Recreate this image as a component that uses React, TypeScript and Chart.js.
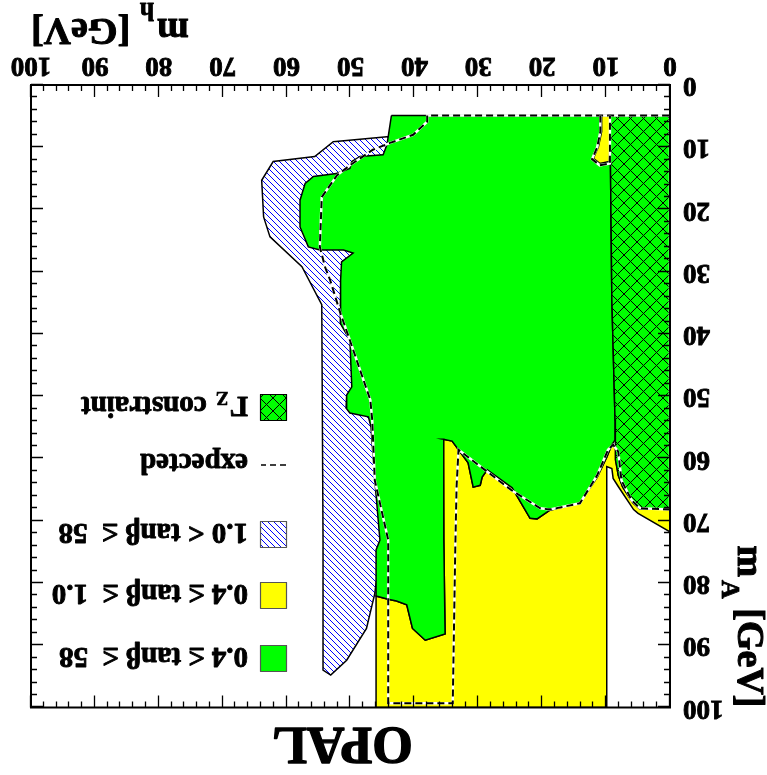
import React, { useEffect, useRef } from 'react';
import { Chart, registerables } from 'chart.js';

Chart.register(...registerables);

type P = [number, number];

// ---------------- data (m_h [GeV], m_A [GeV]) ----------------
const mhTicks = [0, 10, 20, 30, 40, 50, 60, 70, 80, 90, 100];
const mATicks = [0, 10, 20, 30, 40, 50, 60, 70, 80, 90, 100];

const legendLabels = ['0.4 \u2264 tan\u03b2 \u2264  58', '0.4 \u2264 tan\u03b2 \u2264  1.0', '1.0 < tan\u03b2 \u2264  58', 'expected', '\u0393'];

// Gamma_Z constraint region
const gammaZRegion: P[] = [
  [0, 4.9], [9.4, 4.9], [9.1, 34.5], [8.6, 53.8], [8.6, 57.8], [8.5, 60.2], [8.1, 62.7],
  [7.4, 64.6], [5.8, 67.1], [4.7, 68.1], [0, 68.1],
];

// 1.0 < tanb <= 58 (hatched) outer boundary
const hatchRegion: P[] = [
  [44.3, 8.3], [52.7, 9.1], [55.6, 11.5], [62.1, 12.3], [63.9, 15.3], [63.6, 21.2], [62.6, 24.4],
  [57.6, 29.2], [54.5, 35.3], [54.3, 73.1], [54.3, 94.0], [53.1, 94.8], [50.6, 92.4], [47.5, 87.3],
  [46.2, 81.7], [46.0, 80.0], [40.0, 80.0], [40.0, 8.3],
];

// 0.4 <= tanb <= 1.0 (yellow)
const yellowRegion: P[] = [
  [46.0, 100], [46.0, 82.1], [44.1, 82.6], [42.8, 82.9], [41.2, 83.5], [40.3, 87.3], [38.3, 89.2],
  [35.2, 88.2], [35.4, 73.1], [35.5, 56.9], [34.1, 57.2], [31.6, 60.7], [30.8, 64.6], [29.7, 64.3],
  [29.4, 63.0], [28.6, 61.8], [24.7, 64.7], [21.9, 69.6], [20.8, 69.7], [18.8, 68.3], [14.1, 67.1],
  [11.4, 63.0], [9.9, 59.8], [9.1, 57.8], [8.6, 58.2], [8.5, 60.2], [8.1, 62.7], [7.4, 64.6],
  [5.8, 67.1], [4.7, 68.1], [0, 68.1], [0, 71.8], [5.0, 68.8], [5.7, 68.2], [8.1, 64.5],
  [8.9, 63.2], [9.1, 61.6], [9.9, 61.3], [9.9, 100],
];

const yellowIsland: P[] = [
  [10.7, 4.9], [9.1, 4.9], [9.3, 7.7], [9.5, 12.3], [11.0, 12.6], [12.0, 11.8], [11.2, 9.9], [10.7, 7.5],
];

// 0.4 <= tanb <= 58 (green)
const greenRegion: P[] = [
  [43.6, 4.9], [9.4, 4.9], [9.1, 34.5], [8.6, 53.8], [8.6, 57.0], [9.1, 57.8], [9.9, 59.8],
  [11.4, 63.0], [14.1, 67.1], [18.8, 68.3], [20.8, 69.7], [21.9, 69.6], [24.7, 64.7], [28.6, 61.8],
  [29.4, 63.0], [29.7, 64.3], [30.8, 64.6], [31.6, 60.7], [34.1, 57.2], [35.5, 56.9], [35.4, 73.1],
  [35.2, 88.2], [38.3, 89.2], [40.3, 87.3], [41.2, 83.5], [42.8, 82.9], [44.1, 82.6], [46.0, 82.1],
  [46.0, 74.7], [45.4, 73.1], [46.2, 63.5], [46.8, 54.9], [47.2, 53.3], [50.1, 52.7], [50.7, 51.9],
  [50.6, 49.8], [49.8, 48.5], [50.1, 41.0], [51.6, 38.3], [51.6, 34.5], [51.5, 31.3], [51.4, 28.4],
  [49.6, 27.0], [51.1, 26.5], [54.8, 26.5], [56.6, 26.0], [57.9, 22.8], [57.9, 18.5], [57.1, 15.8],
  [55.8, 14.7], [52.2, 14.2], [50.1, 13.4], [49.8, 12.3], [48.5, 11.5], [44.9, 11.2], [44.3, 9.6],
  [44.1, 8.3],
];

// expected limit contour
const expectedLine: P[] = [
  [0, 68.2], [4.7, 68.0], [6.0, 66.7], [7.6, 63.5], [8.1, 58.9], [8.9, 57.8], [9.7, 58.6],
  [11.4, 62.7], [14.1, 67.2], [18.8, 68.2], [20.3, 68.0], [24.8, 65.1], [33.1, 58.6], [33.4, 64.5],
  [33.6, 74.2], [34.0, 99.3], [44.1, 99.3], [44.1, 73.1], [46.2, 63.5], [46.6, 53.8], [46.9, 50.6],
  [50.1, 41.0], [51.6, 36.6], [53.2, 31.3], [54.0, 29.2], [54.8, 26.0], [54.5, 18.0], [52.1, 14.5],
  [50.1, 12.9], [46.5, 10.4], [43.8, 9.3], [40.2, 8.0], [38.0, 5.9], [38.0, 4.9], [0, 4.9], [0, 68.2],
];

const expectedIsland: P[] = [
  [10.9, 4.9], [10.9, 7.5], [11.4, 10.0], [12.2, 11.9], [11.0, 12.9], [9.4, 12.6], [9.4, 4.9],
];

// ---------------- helpers ----------------
const F = '"Liberation Serif", "Times New Roman", serif';
const GREEN = '#00ff00';
const YELLOW = '#ffff00';

const pts = (arr: P[], close = true) => {
  const a = close ? [...arr, arr[0]] : arr;
  return a.map(([x, y]) => ({ x, y }));
};

function makeHatch(): CanvasPattern | string {
  const s = 6;
  const c = document.createElement('canvas');
  c.width = s; c.height = s;
  const g = c.getContext('2d');
  if (!g) return '#ccf';
  g.fillStyle = '#ffffff';
  g.fillRect(0, 0, s, s);
  g.strokeStyle = '#0000ff';
  g.lineWidth = 1;
  g.beginPath();
  for (const o of [-s, 0, s]) {
    g.moveTo(o, 0);
    g.lineTo(o + s, s);
  }
  g.stroke();
  return g.createPattern(c, 'repeat') || '#ccf';
}

function makeCross(): CanvasPattern | string {
  const s = 13;
  const c = document.createElement('canvas');
  c.width = s; c.height = s;
  const g = c.getContext('2d');
  if (!g) return GREEN;
  g.fillStyle = GREEN;
  g.fillRect(0, 0, s, s);
  g.strokeStyle = '#000';
  g.lineWidth = 1;
  g.beginPath();
  for (const o of [-s, 0, s]) {
    g.moveTo(o, 0); g.lineTo(o + s, s);
    g.moveTo(o + s, 0); g.lineTo(o, s);
  }
  g.stroke();
  return g.createPattern(c, 'repeat') || GREEN;
}

function boldText(ctx: CanvasRenderingContext2D, t: string, x: number, y: number, w = 0.9) {
  ctx.fillText(t, x, y);
  ctx.lineWidth = w;
  ctx.strokeStyle = '#000';
  ctx.strokeText(t, x, y);
}

export default function App() {
  const ref = useRef<HTMLCanvasElement>(null);

  useEffect(() => {
    const canvas = ref.current;
    if (!canvas) return;
    const hatch = makeHatch();
    const cross = makeCross();

    const decor = {
      id: 'decor',
      afterDatasetsDraw(chart: any) {
        const { ctx, chartArea: a, scales } = chart;
        const x = scales.x, y = scales.y;
        ctx.save();
        ctx.strokeStyle = '#000';
        ctx.lineWidth = 1.3;
        ctx.beginPath();
        for (let v = 0; v <= 100; v += 2) {
          const len = v % 10 === 0 ? 12 : 6;
          const px = Math.round(x.getPixelForValue(v)) + 0.5;
          ctx.moveTo(px, a.bottom); ctx.lineTo(px, a.bottom - len);
          ctx.moveTo(px, a.top); ctx.lineTo(px, a.top + len);
          const py = Math.round(y.getPixelForValue(v)) + 0.5;
          ctx.moveTo(a.left, py); ctx.lineTo(a.left + len, py);
          ctx.moveTo(a.right, py); ctx.lineTo(a.right - len, py);
        }
        ctx.stroke();
        ctx.lineWidth = 2;
        ctx.strokeRect(a.left, a.top, a.right - a.left, a.bottom - a.top);
        ctx.restore();
      },
      afterDraw(chart: any) {
        const { ctx, chartArea: a } = chart;
        ctx.save();
        ctx.fillStyle = '#000';
        ctx.textBaseline = 'alphabetic';
        ctx.textAlign = 'left';
        ctx.lineJoin = 'round';

        // x-axis title  m_h [GeV]
        const big = `bold 38px ${F}`, sub = `bold 26px ${F}`;
        ctx.font = big;
        const wm = ctx.measureText('m').width;
        const wr = ctx.measureText(' [GeV]').width;
        ctx.font = sub;
        const wh = ctx.measureText('h').width;
        const wa = ctx.measureText('A').width;
        const x0 = a.right - (wm + 3 + wh + wr);
        const xb = 756;
        ctx.font = big; boldText(ctx, 'm', x0, xb, 1);
        ctx.font = sub; boldText(ctx, 'h', x0 + wm + 3, xb + 16, 0.8);
        ctx.font = big; boldText(ctx, ' [GeV]', x0 + wm + 3 + wh, xb, 1);

        // y-axis title  m_A [GeV]
        const totY = wm + 3 + wa + wr;
        ctx.save();
        ctx.translate(29, a.top + totY);
        ctx.rotate(-Math.PI / 2);
        ctx.font = big; boldText(ctx, 'm', 0, 0, 1);
        ctx.font = sub; boldText(ctx, 'A', wm + 3, 16, 0.8);
        ctx.font = big; boldText(ctx, ' [GeV]', wm + 3 + wa, 0, 1);
        ctx.restore();

        // OPAL
        ctx.font = `bold 52px ${F}`;
        ctx.textAlign = 'center';
        boldText(ctx, 'OPAL', 424.5, 47, 1.4);
        ctx.textAlign = 'left';

        // legend
        const bx = 480, bs = 26, tx = 519;
        const rows = [116, 179, 240, 310, 367];
        const fills: (string | CanvasPattern)[] = [GREEN, YELLOW, hatch, '', cross];
        rows.forEach((cy, i) => {
          if (i === 3) {
            ctx.save();
            ctx.strokeStyle = '#000';
            ctx.lineWidth = 1.5;
            ctx.setLineDash([6, 4]);
            ctx.beginPath();
            ctx.moveTo(bx + 1, cy); ctx.lineTo(bx + bs, cy);
            ctx.stroke();
            ctx.restore();
          } else {
            ctx.fillStyle = fills[i] as any;
            ctx.fillRect(bx, cy - bs / 2, bs, bs);
            ctx.strokeStyle = i === 4 ? '#000' : '#555';
            ctx.lineWidth = 1.2;
            ctx.strokeRect(bx + 0.5, cy - bs / 2 + 0.5, bs, bs);
          }
          ctx.fillStyle = '#000';
          ctx.font = `bold 29px ${F}`;
          if (i === 4) {
            boldText(ctx, legendLabels[4], tx, cy + 11);
            const wg = ctx.measureText(legendLabels[4]).width;
            ctx.font = `bold 19px ${F}`;
            boldText(ctx, 'Z', tx + wg + 1, cy + 16, 0.6);
            const wz = ctx.measureText('Z').width;
            ctx.font = `bold 29px ${F}`;
            boldText(ctx, ' constraint', tx + wg + wz + 3, cy + 11);
          } else {
            boldText(ctx, legendLabels[i], tx, cy + 11);
          }
        });
        ctx.restore();
      },
    };

    const region = (data: P[], bg: any, order: number) => ({
      data: pts(data),
      borderColor: '#000',
      borderWidth: 1.5,
      backgroundColor: bg,
      fill: 'shape',
      pointRadius: 0,
      tension: 0,
      order,
    });

    const dashed = (data: P[], white: boolean, order: number) => ({
      data: pts(data, false),
      borderColor: white ? '#ffffff' : '#000000',
      borderWidth: white ? 2.5 : 2,
      borderDash: white ? [] : [7, 4],
      fill: false,
      pointRadius: 0,
      tension: 0,
      order,
    });

    const tickFont = { family: F, size: 27, weight: 'bold' as const };

    const chart = new Chart(canvas, {
      type: 'line',
      data: {
        datasets: [
          region(hatchRegion, hatch, 20),
          region(yellowRegion, YELLOW, 19),
          region(greenRegion, GREEN, 18),
          region(yellowIsland, YELLOW, 17),
          region(gammaZRegion, cross, 16),
          dashed(expectedLine, true, 15),
          dashed(expectedLine, false, 14),
          dashed(expectedIsland, true, 13),
          dashed(expectedIsland, false, 12),
        ] as any,
      },
      options: {
        responsive: false,
        animation: false,
        events: [],
        layout: { padding: { top: 67.5, right: 31, left: 0, bottom: 0 } },
        plugins: { legend: { display: false }, tooltip: { enabled: false }, title: { display: false } },
        scales: {
          x: {
            type: 'linear', min: 0, max: 100, position: 'bottom',
            grid: { display: false, drawTicks: false },
            border: { display: false },
            afterBuildTicks: (s: any) => { s.ticks = mhTicks.map((v) => ({ value: v })); },
            afterFit: (s: any) => { s.height = 85; },
            ticks: { font: tickFont, color: '#000', padding: 4, maxRotation: 0, autoSkip: false, textStrokeColor: '#000', textStrokeWidth: 0.9 },
          },
          y: {
            type: 'linear', min: 0, max: 100, position: 'left',
            grid: { display: false, drawTicks: false },
            border: { display: false },
            afterBuildTicks: (s: any) => { s.ticks = mATicks.map((v) => ({ value: v })); },
            afterFit: (s: any) => { s.width = 97; },
            ticks: { font: tickFont, color: '#000', padding: 13, autoSkip: false, textStrokeColor: '#000', textStrokeWidth: 0.9 },
          },
        },
      } as any,
      plugins: [decor],
    });
    return () => chart.destroy();
  }, []);

  return (
    <div style={{ position: 'fixed', left: 0, top: 0, width: 767, height: 775, background: '#fff', transform: 'rotate(180deg)' }}>
      <canvas ref={ref} width={767} height={775} style={{ display: 'block' }} />
    </div>
  );
}
